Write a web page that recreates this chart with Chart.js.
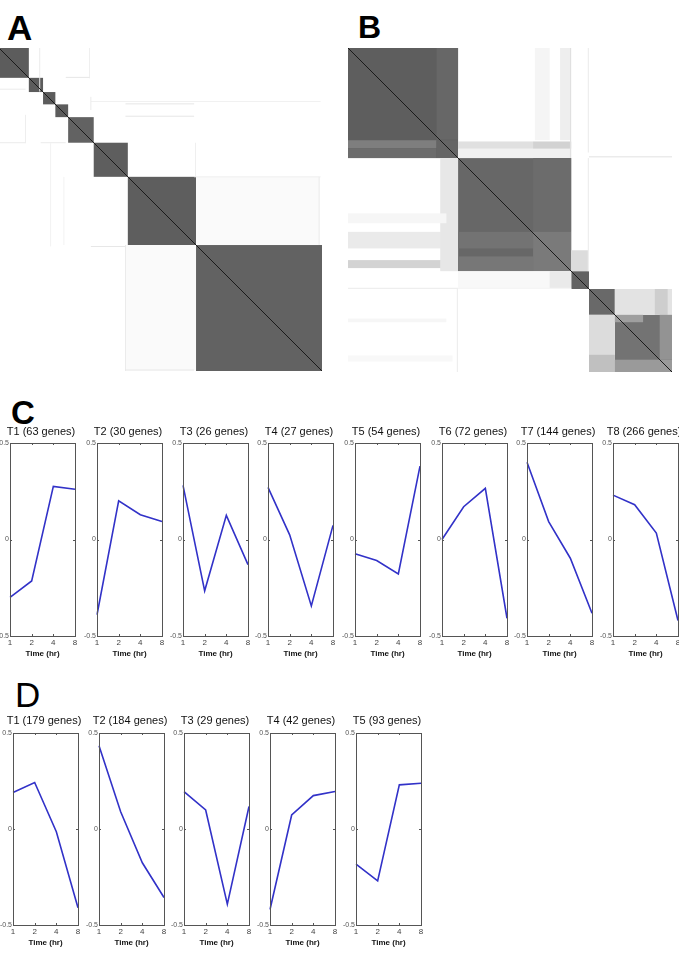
<!DOCTYPE html>
<html>
<head>
<meta charset="utf-8">
<script src="https://cdn.jsdelivr.net/npm/chart.js@4.4.0/dist/chart.umd.min.js"></script>
<style>
body { margin:0; width:679px; height:955px; overflow:hidden; background:#fff; position:relative; font-family:"Liberation Sans", Arial, sans-serif; }
canvas { position:absolute; }
.lbl { position:absolute; line-height:1; color:#000; }
</style>
</head>
<body>
<div class="lbl" style="left:7px;top:10px;font-size:35px;font-weight:bold">A</div>
<div class="lbl" style="left:358px;top:11px;font-size:32px;font-weight:bold">B</div>
<div class="lbl" style="left:11px;top:396px;font-size:33px;font-weight:bold">C</div>
<div class="lbl" style="left:15px;top:677px;font-size:35px">D</div>
<script>
// time points
const timeLabels = ['1', '2', '4', '8'];

// cluster sizes (genes) for the two clusterings
const sizesC = [63, 30, 26, 27, 54, 72, 144, 266];
const sizesD = [179, 184, 29, 42, 93];

// mean expression profiles, panel C
const profilesC = [
  [-0.30, -0.215, 0.275, 0.26],
  [-0.39, 0.20, 0.128, 0.093],
  [0.28, -0.266, 0.125, -0.13],
  [0.27, 0.024, -0.344, 0.073],
  [-0.074, -0.109, -0.178, 0.38],
  [0.0, 0.17, 0.265, -0.408],
  [0.40, 0.093, -0.097, -0.382],
  [0.23, 0.18, 0.033, -0.42]
];

// mean expression profiles, panel D
const profilesD = [
  [0.19, 0.242, -0.014, -0.41],
  [0.433, 0.09, -0.176, -0.357],
  [0.195, 0.099, -0.391, 0.117],
  [-0.419, 0.073, 0.174, 0.195],
  [-0.183, -0.27, 0.23, 0.238]
];

// consensus inside each diagonal block
const shadeA = [0.93, 0.93, 0.93, 0.93, 0.9, 0.92, 0.92, 0.9];
const shadeB = [0.92, 0.87, 0.9, 0.86, 0.8];

// extra consensus patches [row0, row1, col0, col1, value] in gene index
const stripsA = [
  [272, 416, 416, 676, 0.03], [416, 680, 267, 416, 0.03],
  [0, 92, 85, 87, 0.12], [0, 64, 190, 192, 0.1], [61, 63, 141, 191, 0.15],
  [86, 88, 0, 56, 0.12], [112, 114, 194, 679, 0.08], [117, 119, 267, 412, 0.15],
  [143, 145, 267, 412, 0.15], [103, 131, 193, 195, 0.12], [141, 201, 55, 57, 0.1],
  [199, 201, 0, 56, 0.12], [199, 201, 88, 141, 0.12], [201, 419, 108, 110, 0.08],
  [272, 416, 136, 138, 0.08], [418, 420, 194, 267, 0.15], [416, 682, 266, 268, 0.12],
  [679, 681, 267, 412, 0.15], [271, 273, 412, 679, 0.1], [272, 416, 675, 677, 0.12],
  [200, 272, 414, 416, 0.1]
];
const stripsB = [
  [0, 149, 144, 179, 0.87], [150, 163, 0, 144, 0.74], [163, 179, 0, 144, 0.84],
  [150, 179, 144, 179, 0.88], [152, 164, 179, 301, 0.18], [152, 164, 301, 363, 0.26],
  [164, 179, 179, 363, 0.08], [0, 150, 304, 328, 0.06], [0, 150, 345, 361, 0.1],
  [0, 180, 361, 363, 0.18], [0, 170, 390, 392, 0.1], [176, 178, 392, 527, 0.14],
  [299, 326, 0, 179, 0.12], [345, 358, 0, 179, 0.25], [179, 363, 150, 179, 0.14],
  [269, 285, 0, 160, 0.05], [299, 326, 179, 301, 0.8], [339, 363, 179, 301, 0.78],
  [179, 299, 301, 363, 0.84], [299, 363, 301, 363, 0.76], [363, 392, 179, 363, 0.04],
  [363, 392, 328, 363, 0.12], [329, 363, 363, 392, 0.2], [390, 392, 0, 179, 0.1],
  [390, 392, 179, 363, 0.06], [392, 527, 177, 179, 0.1], [179, 363, 390, 392, 0.1],
  [392, 434, 434, 527, 0.16], [392, 434, 499, 520, 0.28], [434, 527, 392, 434, 0.2],
  [499, 527, 392, 434, 0.36], [434, 446, 434, 480, 0.55], [507, 527, 434, 527, 0.58],
  [434, 507, 507, 527, 0.62], [440, 446, 0, 160, 0.05], [500, 510, 0, 170, 0.04]
];

Chart.defaults.font.family = '"Liberation Sans", Arial, sans-serif';

function grey(v) {
  const g = Math.round(255 - v * 175);
  return 'rgb(' + g + ',' + g + ',' + g + ')';
}

function addCanvas(left, top, w, h) {
  const c = document.createElement('canvas');
  c.width = w; c.height = h;
  c.style.left = left + 'px'; c.style.top = top + 'px';
  c.style.width = w + 'px'; c.style.height = h + 'px';
  document.body.appendChild(c);
  return c;
}

function drawMatrix(left, top, size, sizes, shades, strips) {
  const n = sizes.reduce((a, b) => a + b, 0);
  const edges = [0];
  sizes.forEach(s => edges.push(edges[edges.length - 1] + s));
  const cells = sizes.map((s, i) => [edges[i], edges[i + 1], edges[i], edges[i + 1], shades[i]]).concat(strips);
  const cv = addCanvas(left, top, size, size);
  new Chart(cv, {
    type: 'scatter',
    data: { datasets: [{ data: [{x: 0, y: 0}, {x: n, y: n}], showLine: true, borderColor: '#1a1a1a', borderWidth: 1, pointRadius: 0 }] },
    options: {
      responsive: false, animation: false, events: [],
      plugins: { legend: { display: false }, tooltip: { enabled: false } },
      scales: {
        x: { type: 'linear', min: 0, max: n, display: false },
        y: { type: 'linear', min: 0, max: n, reverse: true, display: false }
      }
    },
    plugins: [{
      id: 'cells',
      beforeDatasetsDraw(chart) {
        const ctx = chart.ctx, xs = chart.scales.x, ys = chart.scales.y;
        cells.forEach(c => {
          const x0 = xs.getPixelForValue(c[2]), x1 = xs.getPixelForValue(c[3]);
          const y0 = ys.getPixelForValue(c[0]), y1 = ys.getPixelForValue(c[1]);
          ctx.fillStyle = grey(c[4]);
          ctx.fillRect(Math.min(x0, x1), Math.min(y0, y1), Math.abs(x1 - x0), Math.abs(y1 - y0));
        });
      }
    }]
  });
}

const framePlugin = {
  id: 'frame',
  afterDatasetsDraw(chart) {
    const ctx = chart.ctx, a = chart.chartArea;
    ctx.save();
    ctx.strokeStyle = '#555';
    ctx.lineWidth = 1;
    ctx.strokeRect(Math.round(a.left) + 0.5, Math.round(a.top) + 0.5, Math.round(a.right - a.left), Math.round(a.bottom - a.top));
    ctx.beginPath();
    [1, 2].forEach(i => {
      const x = Math.round(chart.scales.x.getPixelForTick(i)) + 0.5;
      ctx.moveTo(x, a.top); ctx.lineTo(x, a.top + 2);
      ctx.moveTo(x, a.bottom); ctx.lineTo(x, a.bottom - 2);
    });
    const y = Math.round(chart.scales.y.getPixelForValue(0)) + 0.5;
    ctx.moveTo(a.left, y); ctx.lineTo(a.left + 2, y);
    ctx.moveTo(a.right, y); ctx.lineTo(a.right - 2, y);
    ctx.stroke();
    ctx.restore();
  }
};

function drawProfile(boxLeft, boxTop, boxW, boxH, title, values, padB) {
  const YW = 16, RW = 13, XH = 23, TH = 13.2 + padB;
  const cv = addCanvas(boxLeft - YW, Math.round(boxTop - TH), YW + boxW + RW, Math.round(TH + boxH + XH));
  new Chart(cv, {
    type: 'line',
    data: { labels: timeLabels, datasets: [{ data: values, borderColor: '#3232c8', borderWidth: 1.6, pointRadius: 0, tension: 0, fill: false }] },
    options: {
      responsive: false, animation: false, events: [],
      plugins: {
        legend: { display: false }, tooltip: { enabled: false },
        title: { display: true, text: title, color: '#111', font: { size: 11, weight: 'normal' }, padding: { top: 0, bottom: padB } }
      },
      scales: {
        x: {
          type: 'category', offset: false,
          grid: { display: false, drawTicks: false }, border: { display: false },
          ticks: { color: '#444', font: { size: 8 }, padding: 2, maxRotation: 0, autoSkip: false },
          title: { display: true, text: 'Time (hr)', color: '#111', font: { size: 8, weight: 'bold' }, padding: { top: 0, bottom: 0 } },
          afterFit(s) { s.height = XH; s.paddingLeft = 0; s.paddingRight = 0; }
        },
        y: {
          min: -0.5, max: 0.5,
          grid: { display: false, drawTicks: false }, border: { display: false },
          ticks: { stepSize: 0.5, color: '#555', font: { size: 7 }, padding: 1 },
          afterFit(s) { s.width = YW; s.paddingTop = 0; s.paddingBottom = 0; }
        },
        y2: {
          type: 'linear', position: 'right',
          grid: { display: false, drawTicks: false }, border: { display: false },
          ticks: { display: false },
          afterFit(s) { s.width = RW; s.paddingTop = 0; s.paddingBottom = 0; }
        }
      }
    },
    plugins: [framePlugin]
  });
}

// consensus matrices
drawMatrix(-1, 48, 323, sizesC, shadeA, stripsA);
drawMatrix(348, 48, 324, sizesD, shadeB, stripsB);

// panel C profiles
const leftsC = [10, 97, 183, 268, 355, 442, 527, 613];
profilesC.forEach((p, i) => {
  drawProfile(leftsC[i], 443, 65, 193, 'T' + (i + 1) + ' (' + sizesC[i] + ' genes)', p, 4.8);
});

// panel D profiles
const leftsD = [13, 99, 184, 270, 356];
profilesD.forEach((p, i) => {
  drawProfile(leftsD[i], 733, 65, 192, 'T' + (i + 1) + ' (' + sizesD[i] + ' genes)', p, 5.8);
});
</script>
</body>
</html>
